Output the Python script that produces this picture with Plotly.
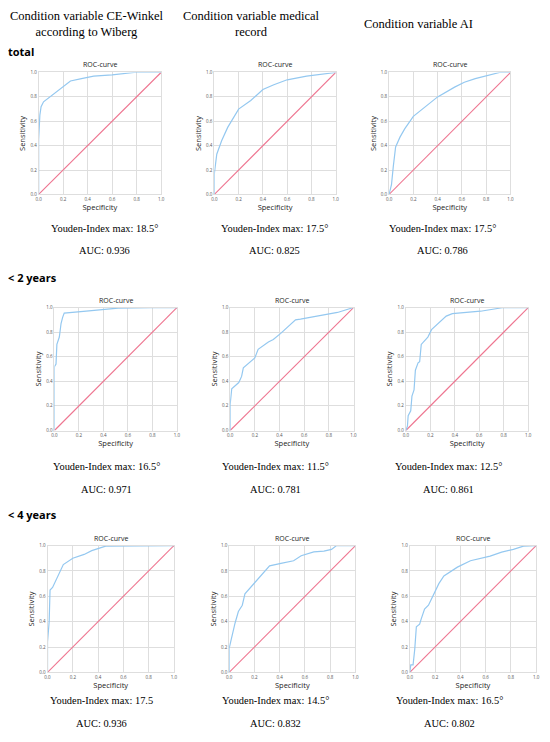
import plotly.graph_objects as go

# ---- data (x = 1 - specificity, y = sensitivity) ----
columns = ['Condition variable CE-Winkel<br>according to Wiberg',
           'Condition variable medical<br>record',
           'Condition variable AI']
rows = ['total', '< 2 years', '< 4 years']

ce_total_x = [0, 0.0, 0.01, 0.02, 0.04, 0.08, 0.12, 0.18, 0.26, 0.35, 0.45, 0.6, 0.78, 1.0]
ce_total_y = [0, 0.45, 0.65, 0.72, 0.76, 0.79, 0.82, 0.87, 0.93, 0.95, 0.97, 0.98, 1.0, 1.0]
med_total_x = [0, 0.0, 0.02, 0.06, 0.11, 0.2, 0.3, 0.4, 0.49, 0.6, 0.76, 1.0]
med_total_y = [0, 0.17, 0.33, 0.44, 0.55, 0.70, 0.77, 0.86, 0.90, 0.94, 0.97, 1.0]
ai_total_x = [0, 0.02, 0.035, 0.054, 0.09, 0.13, 0.2, 0.32, 0.4, 0.54, 0.56, 0.62, 0.71, 0.79, 0.91, 1.0]
ai_total_y = [0, 0.08, 0.23, 0.39, 0.47, 0.54, 0.64, 0.74, 0.80, 0.88, 0.89, 0.92, 0.95, 0.97, 1.0, 1.0]

ce_2_x = [0, 0.0, 0.013, 0.02, 0.04, 0.054, 0.067, 0.08, 0.26, 0.52, 0.79, 1.0]
ce_2_y = [0, 0.52, 0.54, 0.70, 0.76, 0.87, 0.92, 0.955, 0.97, 0.995, 1.0, 1.0]
med_2_x = [0, 0.0, 0.013, 0.07, 0.093, 0.107, 0.2, 0.227, 0.31, 0.35, 0.41, 0.53, 0.57, 0.71, 0.87, 1.0]
med_2_y = [0, 0.21, 0.34, 0.39, 0.44, 0.51, 0.59, 0.66, 0.72, 0.74, 0.79, 0.90, 0.905, 0.93, 0.96, 1.0]
ai_2_x = [0, 0.013, 0.019, 0.04, 0.05, 0.067, 0.078, 0.1, 0.113, 0.126, 0.18, 0.21, 0.33, 0.38, 0.61, 0.8, 1.0]
ai_2_y = [0, 0.035, 0.12, 0.16, 0.28, 0.33, 0.49, 0.55, 0.56, 0.70, 0.76, 0.82, 0.93, 0.95, 0.97, 1.0, 1.0]

ce_4_x = [0, 0.0, 0.013, 0.02, 0.04, 0.125, 0.2, 0.29, 0.35, 0.46, 1.0]
ce_4_y = [0, 0.24, 0.40, 0.65, 0.67, 0.85, 0.9, 0.93, 0.96, 0.995, 1.0]
med_4_x = [0, 0.0, 0.013, 0.034, 0.047, 0.073, 0.104, 0.125, 0.216, 0.32, 0.41, 0.51, 0.57, 0.67, 0.75, 0.81, 0.85, 1.0]
med_4_y = [0, 0.19, 0.245, 0.35, 0.39, 0.48, 0.53, 0.62, 0.72, 0.84, 0.86, 0.88, 0.92, 0.95, 0.956, 0.97, 1.0, 1.0]
ai_4_x = [0, 0.008, 0.026, 0.039, 0.052, 0.078, 0.09, 0.117, 0.148, 0.18, 0.23, 0.27, 0.377, 0.48, 0.636, 0.727, 0.82, 0.9, 1.0]
ai_4_y = [0, 0.06, 0.06, 0.18, 0.36, 0.38, 0.42, 0.50, 0.53, 0.60, 0.70, 0.76, 0.83, 0.88, 0.917, 0.948, 0.97, 0.995, 1.0]

youden = ['18.5°', '17.5°', '17.5°',
          '16.5°', '11.5°', '12.5°',
          '17.5', '14.5°', '16.5°']
auc = ['0.936', '0.825', '0.786',
       '0.971', '0.781', '0.861',
       '0.936', '0.832', '0.802']

curves = [(ce_total_x, ce_total_y), (med_total_x, med_total_y), (ai_total_x, ai_total_y),
          (ce_2_x, ce_2_y), (med_2_x, med_2_y), (ai_2_x, ai_2_y),
          (ce_4_x, ce_4_y), (med_4_x, med_4_y), (ai_4_x, ai_4_y)]
diag = [0, 1]
ticks = [0, 0.2, 0.4, 0.6, 0.8, 1.0]

# ---- layout in pixels of the reference image ----
# the page body has an 8px margin, so the figure is drawn 8px smaller and shifted
OFF = 8
W, H = 550 - OFF, 742 - 2 * OFF
row_y = [(70, 193), (307, 431), (547, 675)]
panel_x = [[(36, 160), (214, 337), (391, 514)],
           [(52, 176), (230, 355), (408, 532)],
           [(45, 173), (229, 357), (412, 540)]]
text_y = [(227, 249), (467, 490), (703, 726)]
text_cx = [[103, 275, 445], [105, 276, 451], [100, 276, 452]]
row_label_y = [49, 277, 516]
header_cx = [84, 252, 421]
header_cy = 21

def fx(v):
    return (v - OFF) / W

def fy(v):
    return 1 - (v - OFF) / H

CURVE = '#94c8f0'
DIAG = '#ee7590'
GRID = '#dedede'
SERIF = 'Liberation Serif'
SANS = 'Open Sans'

fig = go.Figure()
annotations = []
layout_axes = {}

for i, (cx, cy) in enumerate(curves):
    r, c = divmod(i, 3)
    n = i + 1
    xa = 'x' if n == 1 else f'x{n}'
    ya = 'y' if n == 1 else f'y{n}'
    fig.add_trace(go.Scatter(x=diag, y=diag, mode='lines', xaxis=xa, yaxis=ya,
                             line=dict(color=DIAG, width=1.1), showlegend=False))
    fig.add_trace(go.Scatter(x=cx, y=cy, mode='lines', xaxis=xa, yaxis=ya,
                             line=dict(color=CURVE, width=1.2), showlegend=False))
    left, right = panel_x[r][c]
    top, bottom = row_y[r]
    common = dict(range=[0, 1], tickvals=ticks, ticktext=[f'{t:.1f}' for t in ticks],
                  showgrid=True, gridcolor=GRID, gridwidth=1, zeroline=False,
                  showline=True, linecolor=GRID, linewidth=1, mirror=True,
                  tickfont=dict(family=SANS, size=4.5, color='#555'), ticks='',
                  fixedrange=True)
    layout_axes['xaxis' if n == 1 else f'xaxis{n}'] = dict(
        common, domain=[fx(left), fx(right)], anchor=ya,
        title=dict(text='Specificity', font=dict(family=SANS, size=7.5, color='#222'), standoff=2))
    layout_axes['yaxis' if n == 1 else f'yaxis{n}'] = dict(
        common, domain=[fy(bottom), fy(top)], anchor=xa,
        title=dict(text='Sensitivity', font=dict(family=SANS, size=7.5, color='#222'), standoff=3))
    # ROC-curve title
    annotations.append(dict(text='ROC-curve', x=fx((left + right) / 2), y=fy(top - 1),
                            xref='paper', yref='paper', xanchor='center', yanchor='bottom',
                            showarrow=False, font=dict(family=SANS, size=7, color='#222')))
    # Youden and AUC text
    ty1, ty2 = text_y[r]
    annotations.append(dict(text=f'Youden-Index max: {youden[i]}', x=fx(text_cx[r][c]), y=fy(ty1),
                            xref='paper', yref='paper', xanchor='center', yanchor='middle',
                            showarrow=False, font=dict(family=SERIF, size=10.4, color='black')))
    annotations.append(dict(text=f'AUC: {auc[i]}', x=fx(text_cx[r][c]), y=fy(ty2),
                            xref='paper', yref='paper', xanchor='center', yanchor='middle',
                            showarrow=False, font=dict(family=SERIF, size=10.4, color='black')))

for c, h in enumerate(columns):
    annotations.append(dict(text=h, x=fx(header_cx[c]), y=fy(header_cy), xref='paper', yref='paper',
                            xanchor='center', yanchor='middle', showarrow=False, align='center',
                            borderpad=0, font=dict(family=SERIF, size=12.5, color='black')))

for r, lab in enumerate(rows):
    annotations.append(dict(text=f'<b>{lab}</b>', x=fx(3), y=fy(row_label_y[r]), xref='paper',
                            yref='paper', xanchor='left', yanchor='middle', showarrow=False,
                            font=dict(family=SANS, size=11, color='black')))

fig.update_layout(width=W, height=H, margin=dict(l=0, r=0, t=0, b=0),
                  paper_bgcolor='white', plot_bgcolor='white',
                  annotations=annotations, **layout_axes)
fig.write_html('out.html')
